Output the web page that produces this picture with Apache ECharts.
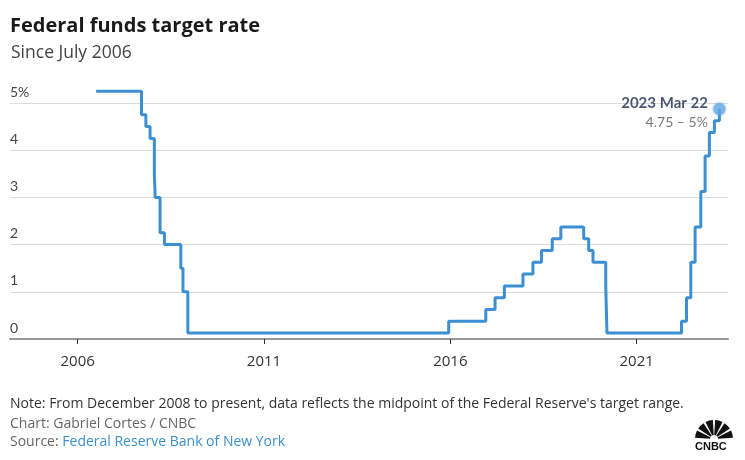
<!DOCTYPE html>
<html><head><meta charset="utf-8">
<script src="https://cdn.jsdelivr.net/npm/echarts@6/dist/echarts.min.js"></script>
<style>html,body{margin:0;padding:0;background:#fff}#c{width:745px;height:460px}</style>
</head><body><div id="c"></div>
<script>
// Dates of target-rate changes (midpoint of range from Dec 2008 on)
const dates = ['2006-07-01','2007-09-18','2007-10-31','2007-12-11','2008-01-22','2008-01-30','2008-03-18','2008-04-30','2008-10-08','2008-10-29','2008-12-16','2015-12-16','2016-12-14','2017-03-15','2017-06-14','2017-12-13','2018-03-21','2018-06-13','2018-09-26','2018-12-19','2019-07-31','2019-09-18','2019-10-30','2020-03-03','2020-03-15','2022-03-16','2022-05-04','2022-06-15','2022-07-27','2022-09-21','2022-11-02','2022-12-14','2023-02-01','2023-03-22'];
const rates = [5.25,4.75,4.5,4.25,3.5,3.0,2.25,2.0,1.5,1.0,0.125,0.375,0.625,0.875,1.125,1.375,1.625,1.875,2.125,2.375,2.125,1.875,1.625,1.125,0.125,0.375,0.875,1.625,2.375,3.125,3.875,4.375,4.625,4.875];
const xTickYears = [2006,2011,2016,2021];
const yTicks = [0,1,2,3,4,5];
const lastLabelDate = '2023 Mar 22';
const lastLabelRange = '4.75 – 5%';

function decYear(s){
  const [y,m,d] = s.split('-').map(Number);
  const t0 = Date.UTC(y,0,1), t1 = Date.UTC(y+1,0,1), t = Date.UTC(y,m-1,d);
  return y + (t-t0)/(t1-t0);
}

const FONT = 'Lato, "Open Sans", sans-serif';
const OS = '"Open Sans", Lato, sans-serif';
const chart = echarts.init(document.getElementById('c'), null, {renderer:'canvas'});
const lineData = dates.map((d,i)=>[decYear(d), rates[i]]);
const lastIdx = dates.length-1;

const feathers = [];
for (let k=0;k<6;k++){
  const a0 = -Math.PI + k*(Math.PI/6) + 0.06;
  const a1 = -Math.PI + (k+1)*(Math.PI/6) - 0.06;
  feathers.push({type:'sector', shape:{cx:714, cy:439, r:19, r0:4, startAngle:a0, endAngle:a1}, style:{fill:'#111'}});
}

chart.setOption({
  animation:false,
  grid:{left:10, right:17, top:103, bottom:121, containLabel:false},
  xAxis:{
    type:'value',
    min: 2004.184,
    max: 2023.45,
    axisLine:{show:true, onZero:false, lineStyle:{color:'#999', width:2}},
    axisTick:{show:true, customValues:xTickYears, length:5, lineStyle:{color:'#333', width:1}},
    axisLabel:{customValues:xTickYears, formatter:v=>String(Math.round(v)), color:'#333', fontSize:15, fontFamily:OS, margin:15},
    splitLine:{show:false}
  },
  yAxis:{
    type:'value', min:0, max:5, interval:1,
    axisLine:{show:false}, axisTick:{show:false},
    axisLabel:{inside:true, margin:0, align:'left', verticalAlign:'bottom', padding:[0,0,4,0],
      formatter:v=> v===5 ? '5%' : String(v), color:'#444', fontSize:14, fontFamily:FONT},
    splitLine:{show:true, showMinLine:false, lineStyle:{color:'#dcdcdc', width:1}}
  },
  series:[
    {type:'line', step:'end', data:lineData, showSymbol:false, clip:false,
     lineStyle:{color:'#3c8fd2', width:3}, z:3},
    {type:'scatter', data:[lineData[lastIdx]], symbolSize:12, clip:false, z:4,
     itemStyle:{color:'#5fa6e2', borderColor:'rgba(95,166,226,0.35)', borderWidth:3},
     label:{show:true, position:'left', distance:4, offset:[0,4],
       formatter:'{a|'+lastLabelDate+'}\n{b|'+lastLabelRange+'}',
       rich:{a:{fontFamily:FONT, fontWeight:'bold', fontSize:15, color:'#1b2b4d', align:'right', lineHeight:19},
             b:{fontFamily:FONT, fontSize:14, color:'#555', align:'right', lineHeight:19}}}}
  ],
  graphic:[
    {type:'text', left:10, top:16, style:{text:'Federal funds target rate', font:'bold 20px '+OS, fill:'#1a1a1a'}},
    {type:'text', left:11, top:44, style:{text:'Since July 2006', font:'17.5px '+OS, fill:'#444'}},
    {type:'text', left:10, top:397, style:{text:"Note: From December 2008 to present, data reflects the midpoint of the Federal Reserve's target range.", font:'14px '+OS, fill:'#333'}},
    {type:'text', left:10, top:417, style:{text:'Chart: Gabriel Cortes / CNBC', font:'14px '+OS, fill:'#666'}},
    {type:'text', left:10, top:435, style:{text:'{s|Source: }{l|Federal Reserve Bank of New York}',
      rich:{s:{font:'14px '+OS, fill:'#666'}, l:{font:'14px '+OS, fill:'#3a8fd0'}}}},
    {type:'group', children:feathers},
    {type:'text', left:695, top:441, style:{text:'CNBC', font:'bold 11px Arial, sans-serif', fill:'#111'}}
  ]
});
</script></body></html>
